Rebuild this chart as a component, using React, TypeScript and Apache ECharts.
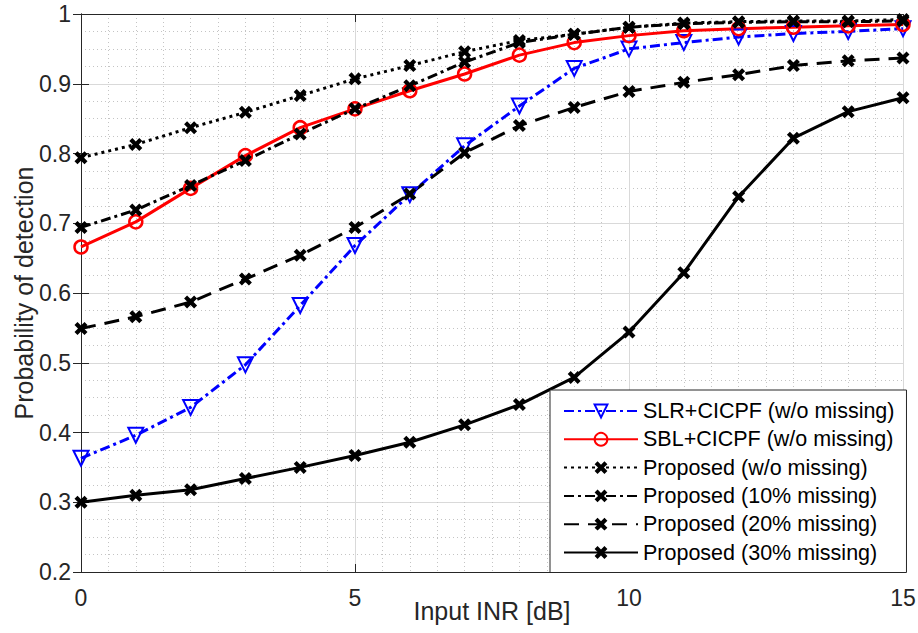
import React, { useEffect, useRef } from "react";
import * as echarts from "echarts";

const inr = [0, 1, 2, 3, 4, 5, 6, 7, 8, 9, 10, 11, 12, 13, 14, 15];
const slrCicpf = [0.363, 0.396, 0.436, 0.497, 0.582, 0.668, 0.741, 0.811, 0.868, 0.922, 0.95, 0.959, 0.967, 0.972, 0.975, 0.979];
const sblCicpf = [0.666, 0.702, 0.75, 0.797, 0.837, 0.864, 0.89, 0.914, 0.941, 0.959, 0.969, 0.976, 0.979, 0.981, 0.983, 0.985];
const propNoMiss = [0.794, 0.813, 0.837, 0.859, 0.883, 0.907, 0.926, 0.946, 0.962, 0.971, 0.981, 0.987, 0.989, 0.99, 0.99, 0.992];
const prop10 = [0.694, 0.719, 0.754, 0.79, 0.828, 0.864, 0.897, 0.931, 0.959, 0.971, 0.981, 0.986, 0.988, 0.989, 0.989, 0.99];
const prop20 = [0.549, 0.566, 0.587, 0.62, 0.654, 0.694, 0.742, 0.801, 0.84, 0.866, 0.889, 0.902, 0.913, 0.926, 0.933, 0.937];
const prop30 = [0.3, 0.31, 0.318, 0.334, 0.35, 0.367, 0.386, 0.411, 0.44, 0.479, 0.544, 0.629, 0.738, 0.822, 0.86, 0.88];

const xTicks = { min: 0, max: 15, interval: 5 };
const yTicks = { min: 0.2, max: 1, interval: 0.1 };

const FONT = "'Liberation Sans', Arial, Helvetica, sans-serif";
const AXIS_COLOR = "#262626";
const X_MARK = "path://M0,2.3 L2.3,0 L5,2.7 L7.7,0 L10,2.3 L7.3,5 L10,7.7 L7.7,10 L5,7.3 L2.3,10 L0,7.7 L2.7,5 Z";

const pairs = (ys: number[]) => inr.map((x, i) => [x, ys[i]]);

export default function App() {
  const ref = useRef<HTMLDivElement>(null);
  useEffect(() => {
    if (!ref.current) return;
    const chart = echarts.init(ref.current, undefined, { renderer: "svg" });
    const blackLine = (name: string, data: number[], dash: any) => ({
      name,
      type: "line",
      data: pairs(data),
      symbol: X_MARK,
      symbolSize: 13,
      showSymbol: true,
      lineStyle: { color: "#000", width: 3, type: dash, cap: "butt" },
      itemStyle: { color: "#000" },
      emphasis: { disabled: true },
    });
    const axisCommon = {
      type: "value",
      axisLine: { show: true, lineStyle: { color: AXIS_COLOR, width: 1 } },
      axisTick: { show: true, inside: true, length: 8, lineStyle: { color: AXIS_COLOR, width: 1 } },
    };
    chart.setOption({
      animation: false,
      backgroundColor: "#fff",
      grid: { left: 81, right: 15, top: 14, bottom: 61, containLabel: false, outerBoundsMode: "none" },
      legend: {
        orient: "vertical",
        left: 550,
        top: 390,
        padding: [9, 12, 8, 13],
        itemWidth: 74,
        itemHeight: 16,
        itemGap: 4.3,
        backgroundColor: "#fff",
        borderColor: AXIS_COLOR,
        borderWidth: 1,
        borderRadius: 0,
        textStyle: { fontFamily: FONT, fontSize: 21.5, color: "#000", lineHeight: 24 },
        data: [
          "SLR+CICPF (w/o missing)",
          "SBL+CICPF (w/o missing)",
          "Proposed (w/o missing)",
          "Proposed (10% missing)",
          "Proposed (20% missing)",
          "Proposed (30% missing)",
        ],
      },
      xAxis: [
        {
          ...axisCommon,
          position: "bottom",
          min: xTicks.min,
          max: xTicks.max,
          interval: xTicks.interval,
          name: "Input INR [dB]",
          nameLocation: "middle",
          nameGap: 26,
          nameMoveOverlap: false,
          nameTextStyle: { fontFamily: FONT, fontSize: 25, color: AXIS_COLOR },
          axisLabel: { fontFamily: FONT, fontSize: 23, color: AXIS_COLOR, margin: 14 },
          splitLine: { show: true, lineStyle: { color: "#d9d9d9", width: 1 } },
          minorTick: { show: false, splitNumber: 10 },
          minorSplitLine: { show: true, lineStyle: { color: "#c4c4c4", width: 1, type: [1, 3] } },
        },
        {
          ...axisCommon,
          position: "top",
          min: xTicks.min,
          max: xTicks.max,
          interval: xTicks.interval,
          axisLabel: { show: false },
          splitLine: { show: false },
        },
      ],
      yAxis: [
        {
          ...axisCommon,
          position: "left",
          min: yTicks.min,
          max: yTicks.max,
          interval: yTicks.interval,
          name: "Probability of detection",
          nameLocation: "middle",
          nameGap: 45,
          nameMoveOverlap: false,
          nameTextStyle: { fontFamily: FONT, fontSize: 25, color: AXIS_COLOR },
          axisLabel: {
            fontFamily: FONT,
            fontSize: 23,
            color: AXIS_COLOR,
            margin: 10,
            formatter: (v: number) => String(+v.toFixed(1)),
          },
          splitLine: { show: true, lineStyle: { color: "#d9d9d9", width: 1 } },
          minorTick: { show: false, splitNumber: 4 },
          minorSplitLine: { show: true, lineStyle: { color: "#c4c4c4", width: 1, type: [1, 3] } },
        },
        {
          ...axisCommon,
          position: "right",
          min: yTicks.min,
          max: yTicks.max,
          interval: yTicks.interval,
          axisLabel: { show: false },
          splitLine: { show: false },
        },
      ],
      series: [
        {
          name: "SLR+CICPF (w/o missing)",
          type: "line",
          data: pairs(slrCicpf),
          symbol: "triangle",
          symbolRotate: 180,
          symbolSize: 15,
          showSymbol: true,
          lineStyle: { color: "#0000ff", width: 3, type: [10, 4, 3, 4], cap: "butt" },
          itemStyle: { color: "rgba(255,255,255,0)", borderColor: "#0000ff", borderWidth: 2 },
          emphasis: { disabled: true },
        },
        {
          name: "SBL+CICPF (w/o missing)",
          type: "line",
          data: pairs(sblCicpf),
          symbol: "circle",
          symbolSize: 13,
          showSymbol: true,
          lineStyle: { color: "#ff0000", width: 3, type: "solid" },
          itemStyle: { color: "rgba(255,255,255,0)", borderColor: "#ff0000", borderWidth: 2.5 },
          emphasis: { disabled: true },
        },
        blackLine("Proposed (w/o missing)", propNoMiss, [3, 4]),
        blackLine("Proposed (10% missing)", prop10, [10, 4, 3, 4]),
        blackLine("Proposed (20% missing)", prop20, [15, 9]),
        blackLine("Proposed (30% missing)", prop30, "solid"),
      ],
    });
    return () => chart.dispose();
  }, []);
  return (
    <div
      ref={ref}
      style={{ position: "absolute", left: 0, top: 0, width: 918, height: 633, overflow: "hidden" }}
    />
  );
}
